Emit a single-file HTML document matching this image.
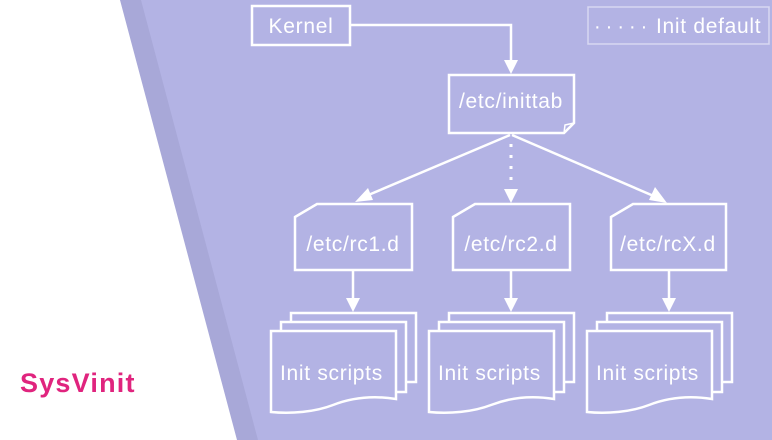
<!DOCTYPE html>
<html><head><meta charset="utf-8"><style>
html,body{margin:0;padding:0;background:#fff;}
svg{display:block;font-family:"Liberation Sans",sans-serif;}
.t{font-size:21px;letter-spacing:0.7px;fill:#fff;}
</style></head><body>
<svg width="772" height="440" viewBox="0 0 772 440" xmlns="http://www.w3.org/2000/svg">
<defs>
<g id="stack">
<rect x="20" y="-18" width="125" height="69" fill="#b3b3e4" stroke="#fff" stroke-width="2.5"/>
<rect x="10" y="-9" width="125" height="70" fill="#b3b3e4" stroke="#fff" stroke-width="2.5"/>
<path d="M0,0 H125 V68 C100,64 80,67 62,74 C44,81 20,83 0,81 Z" fill="#b3b3e4" stroke="#fff" stroke-width="2.5"/>
<text x="9" y="49" class="t">Init scripts</text>
</g>
</defs>
<polygon points="120,0 772,0 772,440 237,440" fill="#a8a8d8"/>
<polygon points="141,0 772,0 772,440 258,440" fill="#b3b3e4"/>
<text x="20" y="392" font-size="27" font-weight="bold" letter-spacing="1.2" fill="#e0247e">SysVinit</text>

<rect x="588" y="7" width="181" height="37" fill="none" stroke="#d8d8f2" stroke-width="1.5"/>
<text x="594" y="33" font-size="20" fill="#fff" letter-spacing="5">·····</text>
<text x="656" y="33" class="t">Init default</text>

<rect x="252" y="6" width="98" height="39" fill="none" stroke="#fff" stroke-width="2.5"/>
<text x="301" y="33" class="t" text-anchor="middle">Kernel</text>
<polyline points="350,25 511,25 511,62" fill="none" stroke="#fff" stroke-width="2.5"/>
<polygon points="504,60 518,60 511,74" fill="#fff"/>

<path d="M449,75 H574 V123 L564,133 H449 Z" fill="none" stroke="#fff" stroke-width="2.5"/>
<path d="M564,133 L565,125 L574,123" fill="none" stroke="#fff" stroke-width="1.5"/>
<text x="511" y="108" class="t" text-anchor="middle">/etc/inittab</text>

<line x1="511" y1="144" x2="511" y2="184" stroke="#fff" stroke-width="3" stroke-dasharray="3,8"/>
<polygon points="504,189 518,189 511,203" fill="#fff"/>
<line x1="510" y1="135" x2="366" y2="196" stroke="#fff" stroke-width="2.5"/>
<polygon points="355,202 368,188 373,200" fill="#fff"/>
<line x1="512" y1="135" x2="656" y2="197" stroke="#fff" stroke-width="2.5"/>
<polygon points="667,203 649,200 655,187" fill="#fff"/>

<path d="M295,217 L317,204 H412 V270 H295 Z" fill="none" stroke="#fff" stroke-width="2.5"/>
<text x="353" y="251" class="t" text-anchor="middle">/etc/rc1.d</text>
<path d="M453,217 L475,204 H570 V270 H453 Z" fill="none" stroke="#fff" stroke-width="2.5"/>
<text x="511" y="251" class="t" text-anchor="middle">/etc/rc2.d</text>
<path d="M611,217 L633,204 H726 V270 H611 Z" fill="none" stroke="#fff" stroke-width="2.5"/>
<text x="668" y="251" class="t" text-anchor="middle">/etc/rcX.d</text>

<line x1="353" y1="270" x2="353" y2="300" stroke="#fff" stroke-width="2.5"/>
<polygon points="346,298 360,298 353,312" fill="#fff"/>
<line x1="511" y1="270" x2="511" y2="300" stroke="#fff" stroke-width="2.5"/>
<polygon points="504,298 518,298 511,312" fill="#fff"/>
<line x1="669" y1="270" x2="669" y2="300" stroke="#fff" stroke-width="2.5"/>
<polygon points="662,298 676,298 669,312" fill="#fff"/>

<use href="#stack" x="271" y="331"/>
<use href="#stack" x="429" y="331"/>
<use href="#stack" x="587" y="331"/>
</svg>
</body></html>
